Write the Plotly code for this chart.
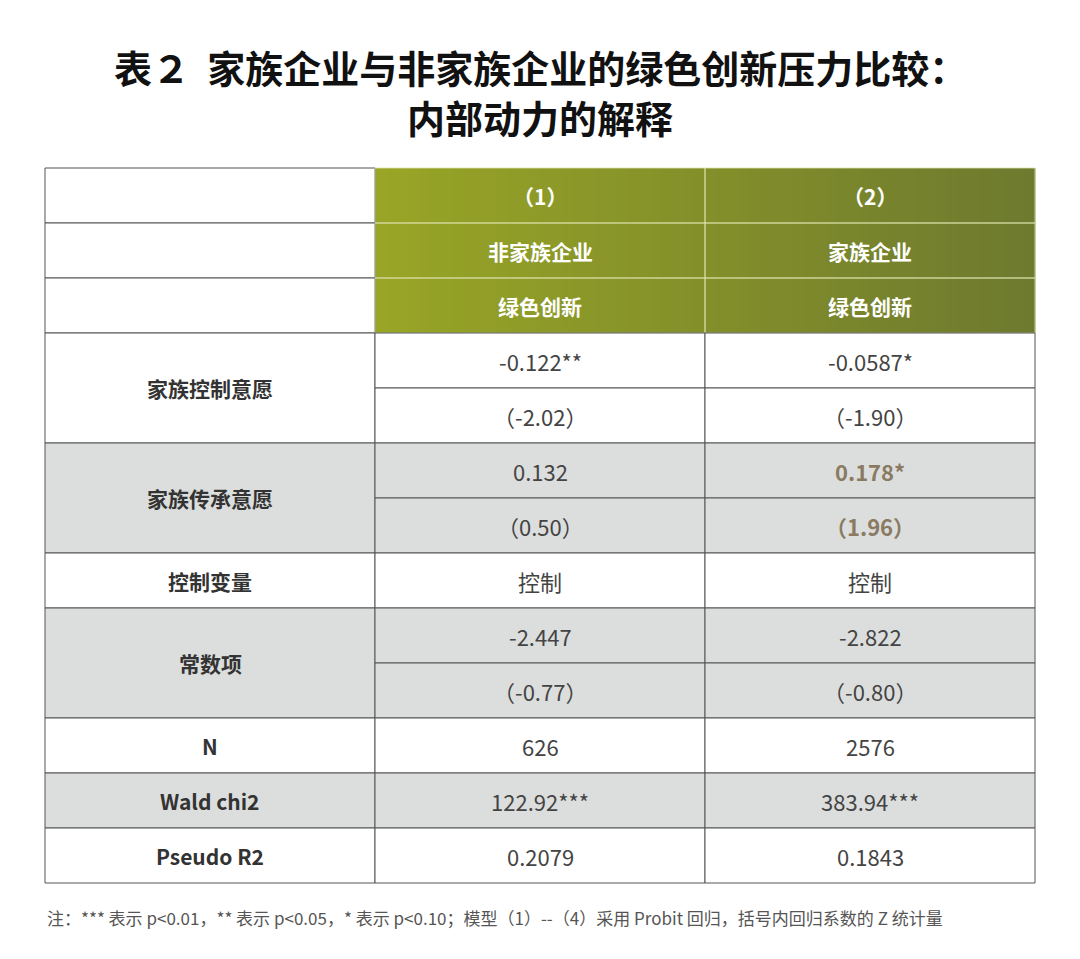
import plotly.graph_objects as go

title_lines = ["表２  家族企业与非家族企业的绿色创新压力比较：", "内部动力的解释"]
col_headers = [["（1）", "（2）"], ["非家族企业", "家族企业"], ["绿色创新", "绿色创新"]]
row_labels = ["家族控制意愿", "家族传承意愿", "控制变量", "常数项", "N", "Wald chi2", "Pseudo R2"]
row_spans = [2, 2, 1, 2, 1, 1, 1]
row_shaded = [False, True, False, True, False, True, False]
col1_values = ["-0.122**", "（-2.02）", "0.132", "（0.50）", "控制", "-2.447", "（-0.77）", "626", "122.92***", "0.2079"]
col2_values = ["-0.0587*", "（-1.90）", "0.178*", "（1.96）", "控制", "-2.822", "（-0.80）", "2576", "383.94***", "0.1843"]
highlight_col2 = [False, False, True, True, False, False, False, False, False, False]
note = "注：*** 表示 p<0.01，** 表示 p<0.05，* 表示 p<0.10；模型（1）--（4）采用 Probit 回归，括号内回归系数的 Z 统计量"

FONT = "Noto Sans CJK SC"
X = [45, 375, 705, 1035]
TOP = 168
RH = 55
shapes, ann = [], []

def rect(x0, y0, x1, y1, fill, line="#555", w=1):
    shapes.append(dict(type="rect", x0=x0, x1=x1, y0=y0, y1=y1, fillcolor=fill,
                       line=dict(color=line, width=w), layer="below"))

def text(x, y, t, size=21, color="#333", bold=False):
    ann.append(dict(x=x, y=y, text=f"<b>{t}</b>" if bold else t, showarrow=False,
                    font=dict(family=FONT, size=size, color=color), xanchor="center", yanchor="middle"))

c0, c1 = (152, 165, 38), (110, 122, 46)
n = 60
for i in range(n):
    f = i / (n - 1)
    col = "rgb(%d,%d,%d)" % tuple(round(a + (b - a) * f) for a, b in zip(c0, c1))
    x0 = X[1] + (X[3] - X[1]) * i / n
    x1 = X[1] + (X[3] - X[1]) * (i + 1) / n + 0.5
    shapes.append(dict(type="rect", x0=x0, x1=x1, y0=TOP, y1=TOP + 3 * RH, fillcolor=col, line=dict(width=0), layer="below"))
for r in range(3):
    y0 = TOP + r * RH
    rect(X[0], y0, X[1], y0 + RH, "white")
    for c in range(2):
        shapes.append(dict(type="rect", x0=X[1 + c], x1=X[2 + c], y0=y0, y1=y0 + RH,
                           line=dict(color="rgba(220,225,170,0.8)", width=1), layer="below"))
        text((X[1 + c] + X[2 + c]) / 2, y0 + RH / 2, col_headers[r][c], size=21, color="white", bold=True)

y = TOP + 3 * RH
k = 0
for lab, span, sh in zip(row_labels, row_spans, row_shaded):
    fill = "#dcdedd" if sh else "white"
    rect(X[0], y, X[1], y + span * RH, fill)
    text((X[0] + X[1]) / 2, y + span * RH / 2, lab, size=21, color="#333", bold=True)
    for s in range(span):
        yy = y + s * RH
        rect(X[1], yy, X[2], yy + RH, fill)
        rect(X[2], yy, X[3], yy + RH, fill)
        text((X[1] + X[2]) / 2, yy + RH / 2, col1_values[k], size=22, color="#444")
        text((X[2] + X[3]) / 2, yy + RH / 2, col2_values[k], size=22,
             color="#8a7a62" if highlight_col2[k] else "#444", bold=highlight_col2[k])
        k += 1
    y += span * RH

text(540, 66, title_lines[0], size=38, color="#111", bold=True)
text(540, 116, title_lines[1], size=38, color="#111", bold=True)
ann.append(dict(x=45, y=917, text=note, showarrow=False, xanchor="left", yanchor="middle",
                font=dict(family=FONT, size=17, color="#555")))

fig = go.Figure()
fig.update_layout(width=1080, height=959, margin=dict(l=0, r=0, t=0, b=0),
                  paper_bgcolor="white", plot_bgcolor="white", shapes=shapes, annotations=ann,
                  xaxis=dict(range=[8, 1088], visible=False, fixedrange=True),
                  yaxis=dict(range=[967, 8], visible=False, fixedrange=True), showlegend=False)
fig.write_html("out.html")
